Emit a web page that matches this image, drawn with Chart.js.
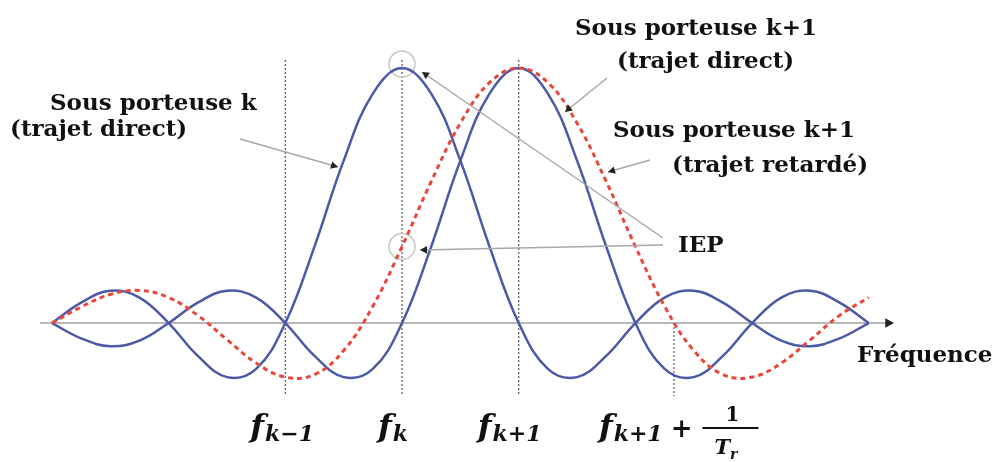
<!DOCTYPE html>
<html>
<head>
<meta charset="utf-8">
<script src="https://cdn.jsdelivr.net/npm/chart.js@4.4.1/dist/chart.umd.min.js"></script>
<style>
  html, body { margin: 0; padding: 0; background: #fff; }
  #wrap { width: 1003px; height: 462px; }
</style>
</head>
<body>
<div id="wrap"><canvas id="chart" width="1003" height="462"></canvas></div>
<script>
// frequency in units of the sub-carrier spacing, f_k = 0
const freq = [-3, -2.75, -2.5, -2.25, -2, -1.75, -1.5, -1.25, -1, -0.75, -0.5, -0.25, 0,
              0.25, 0.5, 0.75, 1, 1.25, 1.5, 1.75, 2, 2.25, 2.5, 2.75, 3, 3.25, 3.5, 3.75, 4];

// amplitudes (peak = 1)
const subK = [0, 0.08, 0.127, 0.10, 0, -0.129, -0.212, -0.18, 0, 0.30, 0.637, 0.90, 1,
              0.90, 0.637, 0.30, 0, -0.18, -0.212, -0.129, 0, 0.10, 0.127, 0.08, 0, -0.069, -0.091, -0.06, 0];
const subK1 = [0, -0.06, -0.091, -0.069, 0, 0.08, 0.127, 0.10, 0, -0.129, -0.212, -0.18, 0,
               0.30, 0.637, 0.90, 1, 0.90, 0.637, 0.30, 0, -0.18, -0.212, -0.129, 0, 0.10, 0.127, 0.08, 0];
const subK1Delayed = [0, 0.063, 0.112, 0.128, 0.10, 0.03, -0.065, -0.157, -0.212, -0.202, -0.108, 0.066, 0.30,
                      0.555, 0.784, 0.943, 1, 0.943, 0.784, 0.555, 0.30, 0.066, -0.108, -0.202, -0.212, -0.157, -0.065, 0.03, 0.10];

// marked frequencies on the axis
const markerFreq = [-1, 0, 1, 2.33];
const markerSub = ['k\u22121', 'k', 'k+1', 'k+1'];

const blue = '#4b59a7';
const red = '#e8473b';

const pts = arr => freq.map((f, i) => ({ x: f, y: arr[i] }));

function arrowHead(ctx, x0, y0, x1, y1, size) {
  const a = Math.atan2(y1 - y0, x1 - x0);
  ctx.save();
  ctx.fillStyle = '#222';
  ctx.beginPath();
  ctx.moveTo(x1, y1);
  ctx.lineTo(x1 - size * Math.cos(a - 0.5), y1 - size * Math.sin(a - 0.5));
  ctx.lineTo(x1 - size * Math.cos(a + 0.5), y1 - size * Math.sin(a + 0.5));
  ctx.closePath();
  ctx.fill();
  ctx.restore();
}

function leader(ctx, x0, y0, x1, y1) {
  ctx.save();
  ctx.strokeStyle = '#a8a8a8';
  ctx.lineWidth = 1.5;
  ctx.beginPath();
  ctx.moveTo(x0, y0);
  ctx.lineTo(x1, y1);
  ctx.stroke();
  ctx.restore();
  arrowHead(ctx, x0, y0, x1, y1, 8);
}

const mathFont = (w, s) => `italic ${w} ${s}px "DejaVu Serif"`;

const sketch = {
  id: 'sketch',
  beforeDatasetsDraw(chart) {
    const { ctx, scales: { x, y } } = chart;
    const y0 = y.getPixelForValue(0);
    ctx.save();
    // frequency axis
    ctx.strokeStyle = '#b8b8b8';
    ctx.lineWidth = 2;
    ctx.beginPath();
    ctx.moveTo(40, y0);
    ctx.lineTo(886, y0);
    ctx.stroke();
    arrowHead(ctx, 870, y0, 894, y0, 10);

    // dotted frequency markers
    ctx.strokeStyle = '#555';
    ctx.lineWidth = 1.2;
    ctx.setLineDash([2, 2]);
    markerFreq.forEach((f, i) => {
      const px = x.getPixelForValue(f);
      ctx.beginPath();
      ctx.moveTo(px, i < 3 ? 60 : y0);
      ctx.lineTo(px, 396);
      ctx.stroke();
    });
    ctx.setLineDash([]);

    // IEP circles
    ctx.strokeStyle = '#c8c8c8';
    ctx.lineWidth = 1.5;
    const cx = x.getPixelForValue(0);
    ctx.beginPath();
    ctx.arc(cx, y.getPixelForValue(1) - 4, 13, 0, Math.PI * 2);
    ctx.stroke();
    ctx.beginPath();
    ctx.arc(cx, y.getPixelForValue(subK1Delayed[freq.indexOf(0)]), 13, 0, Math.PI * 2);
    ctx.stroke();
    ctx.restore();
  },
  afterDatasetsDraw(chart) {
    const { ctx, scales: { x } } = chart;
    ctx.save();
    leader(ctx, 240, 139, 338, 167);
    leader(ctx, 607, 78, 565, 112);
    leader(ctx, 650, 160, 608, 172);
    leader(ctx, 663, 238, 422, 72);
    leader(ctx, 663, 245, 420, 250);

    ctx.fillStyle = '#111';
    ctx.textBaseline = 'alphabetic';
    ctx.font = 'bold 23px "DejaVu Serif"';
    ctx.textAlign = 'left';
    ctx.fillText('Sous porteuse k', 50, 110);
    ctx.fillText('(trajet direct)', 10, 136);
    ctx.fillText('Sous porteuse k+1', 575, 35);
    ctx.fillText('(trajet direct)', 617, 68);
    ctx.fillText('Sous porteuse k+1', 613, 137);
    ctx.fillText('(trajet retard\u00e9)', 672, 172);
    ctx.fillText('IEP', 678, 252);
    ctx.fillText('Fr\u00e9quence', 857, 362);

    // axis marker labels f_{...}
    const offsets = [-35, -24, -41, -75];
    let endX = 0;
    markerFreq.forEach((f, i) => {
      const left = x.getPixelForValue(f) + offsets[i];
      ctx.font = mathFont('bold', 32);
      ctx.fillText('f', left, 437);
      const fw = ctx.measureText('f').width;
      ctx.font = mathFont('bold', 22);
      ctx.fillText(markerSub[i], left + fw + 1, 441);
      endX = left + fw + 1 + ctx.measureText(markerSub[i]).width;
    });
    // + 1/T_r
    ctx.font = 'bold 26px "DejaVu Serif"';
    ctx.fillText('+', endX + 8, 437);
    const plusW = ctx.measureText('+').width;
    const barL = endX + 8 + plusW + 10;
    const barR = barL + 56;
    ctx.fillRect(barL, 427, barR - barL, 2);
    ctx.font = 'bold 20px "DejaVu Serif"';
    ctx.textAlign = 'center';
    ctx.fillText('1', (barL + barR) / 2 + 2, 421);
    ctx.textAlign = 'left';
    ctx.font = mathFont('bold', 21);
    ctx.fillText('T', barL + 12, 454);
    const tw = ctx.measureText('T').width;
    ctx.font = mathFont('bold', 14);
    ctx.fillText('r', barL + 12 + tw, 459);
    ctx.restore();
  }
};

new Chart(document.getElementById('chart'), {
  type: 'line',
  data: {
    datasets: [
      { label: 'Sous porteuse k+1 (trajet retardé)', data: pts(subK1Delayed), borderColor: red,
        borderWidth: 3, borderDash: [5, 4], order: 0 },
      { label: 'Sous porteuse k (trajet direct)', data: pts(subK), borderColor: blue, borderWidth: 2.5, order: 1 },
      { label: 'Sous porteuse k+1 (trajet direct)', data: pts(subK1), borderColor: blue, borderWidth: 2.5, order: 2 }
    ]
  },
  options: {
    responsive: false,
    animation: false,
    layout: { padding: 0 },
    elements: {
      point: { radius: 0 },
      line: { tension: 0.4, fill: false }
    },
    scales: {
      x: { type: 'linear', min: -3.445, max: 5.15, display: false },
      y: { min: -0.545, max: 1.267, display: false }
    },
    plugins: { legend: { display: false }, tooltip: { enabled: false } }
  },
  plugins: [sketch]
});
</script>
</body>
</html>
